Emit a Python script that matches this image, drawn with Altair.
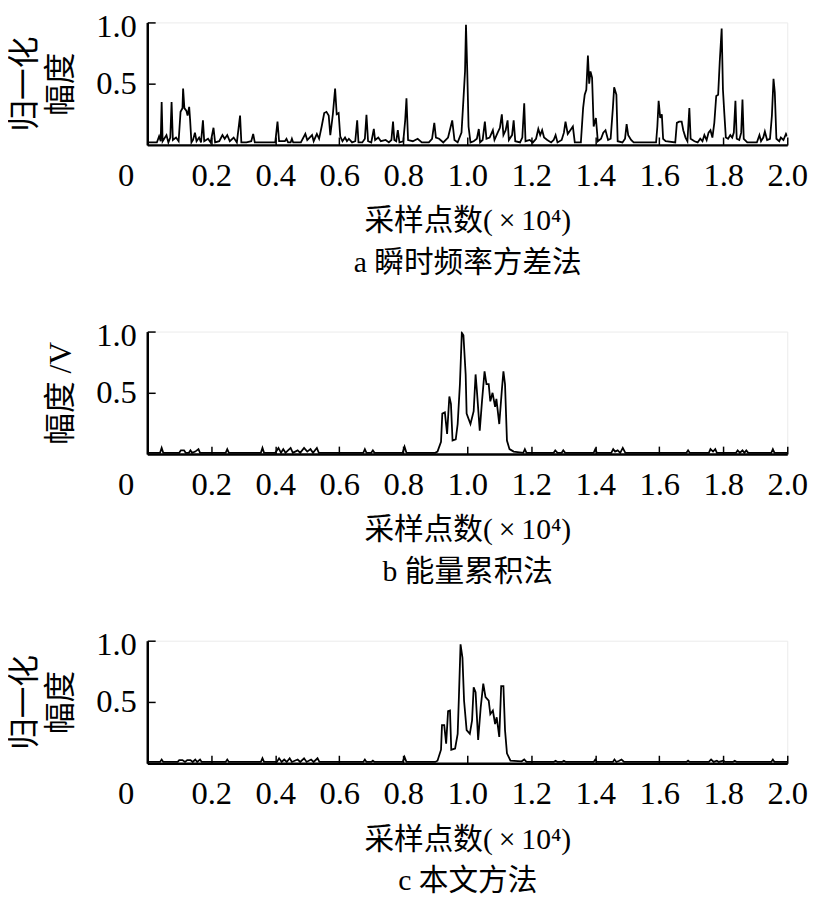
import altair as alt
import pandas as pd

# ---------------- data ----------------
x_ticks = [0, 0.2, 0.4, 0.6, 0.8, 1.0, 1.2, 1.4, 1.6, 1.8, 2.0]
y_ticks = [0.5, 1.0]
x_title = "采样点数(\u2009×\u200910⁴)"
captions = ["a 瞬时频率方差法", "b 能量累积法", "c 本文方法"]
y_titles = [["归一化", "幅度"], "幅度 /V", ["归一化", "幅度"]]

# panel a: instantaneous-frequency variance method
a_x = [0.000, 0.030, 0.037, 0.042, 0.045, 0.048, 0.060, 0.066, 0.072, 0.076, 0.080, 0.090,
       0.098, 0.104, 0.110, 0.112, 0.116, 0.122, 0.126, 0.131, 0.134, 0.138, 0.143, 0.149,
       0.154, 0.162, 0.168, 0.174, 0.178, 0.190, 0.198, 0.207, 0.212, 0.225, 0.235, 0.242,
       0.250, 0.258, 0.270, 0.280, 0.290, 0.294, 0.310, 0.325, 0.331, 0.336, 0.400, 0.407,
       0.412, 0.430, 0.435, 0.440, 0.448, 0.452, 0.456, 0.480, 0.494, 0.500, 0.515, 0.520,
       0.530, 0.537, 0.545, 0.553, 0.560, 0.567, 0.572, 0.580, 0.587, 0.592, 0.598, 0.603,
       0.610, 0.618, 0.624, 0.630, 0.640, 0.650, 0.656, 0.660, 0.672, 0.680, 0.685, 0.690,
       0.700, 0.708, 0.712, 0.722, 0.730, 0.745, 0.755, 0.763, 0.768, 0.772, 0.778, 0.783,
       0.788, 0.800, 0.806, 0.810, 0.815, 0.830, 0.845, 0.858, 0.880, 0.890, 0.897, 0.902,
       0.912, 0.925, 0.940, 0.953, 0.960, 0.970, 0.982, 0.988, 0.993, 0.996, 1.000, 1.004,
       1.010, 1.020, 1.030, 1.036, 1.040, 1.048, 1.055, 1.060, 1.070, 1.080, 1.085, 1.095,
       1.102, 1.108, 1.113, 1.120, 1.126, 1.130, 1.140, 1.145, 1.150, 1.165, 1.172, 1.178,
       1.182, 1.195, 1.205, 1.215, 1.222, 1.228, 1.234, 1.240, 1.250, 1.262, 1.270, 1.276,
       1.282, 1.295, 1.302, 1.307, 1.314, 1.322, 1.330, 1.336, 1.355, 1.362, 1.367, 1.372,
       1.377, 1.381, 1.385, 1.390, 1.395, 1.402, 1.408, 1.418, 1.425, 1.432, 1.440, 1.448,
       1.455, 1.459, 1.466, 1.470, 1.485, 1.493, 1.498, 1.503, 1.512, 1.520, 1.590, 1.594,
       1.598, 1.603, 1.608, 1.612, 1.620, 1.650, 1.655, 1.662, 1.670, 1.675, 1.682, 1.688,
       1.694, 1.698, 1.710, 1.720, 1.728, 1.735, 1.741, 1.748, 1.754, 1.760, 1.766, 1.772,
       1.778, 1.784, 1.789, 1.795, 1.799, 1.803, 1.808, 1.815, 1.822, 1.828, 1.833, 1.838,
       1.842, 1.850, 1.856, 1.860, 1.864, 1.875, 1.905, 1.913, 1.918, 1.925, 1.930, 1.937,
       1.946, 1.952, 1.957, 1.961, 1.966, 1.975, 1.980, 1.988, 1.996, 2.000]
a_y = [0.02, 0.02, 0.07, 0.03, 0.35, 0.03, 0.08, 0.02, 0.06, 0.35, 0.04, 0.06,
       0.03, 0.27, 0.30, 0.46, 0.30, 0.28, 0.24, 0.31, 0.20, 0.02, 0.04, 0.10,
       0.03, 0.06, 0.02, 0.20, 0.03, 0.05, 0.02, 0.14, 0.02, 0.03, 0.08, 0.05,
       0.08, 0.03, 0.06, 0.02, 0.24, 0.02, 0.02, 0.03, 0.09, 0.02, 0.02, 0.19,
       0.03, 0.03, 0.05, 0.02, 0.02, 0.05, 0.02, 0.02, 0.09, 0.04, 0.08, 0.03,
       0.09, 0.05, 0.15, 0.26, 0.27, 0.24, 0.08, 0.25, 0.46, 0.25, 0.26, 0.07,
       0.03, 0.06, 0.03, 0.05, 0.02, 0.03, 0.20, 0.02, 0.02, 0.05, 0.245, 0.03,
       0.02, 0.13, 0.04, 0.06, 0.03, 0.04, 0.02, 0.04, 0.19, 0.04, 0.03, 0.12,
       0.02, 0.03, 0.20, 0.38, 0.04, 0.03, 0.05, 0.02, 0.02, 0.05, 0.18, 0.06,
       0.05, 0.02, 0.06, 0.20, 0.04, 0.02, 0.10, 0.37, 0.60, 0.98, 0.60, 0.15,
       0.02, 0.03, 0.05, 0.13, 0.02, 0.04, 0.19, 0.05, 0.06, 0.12, 0.04, 0.10,
       0.14, 0.25, 0.08, 0.12, 0.20, 0.04, 0.08, 0.20, 0.03, 0.02, 0.06, 0.34,
       0.03, 0.04, 0.02, 0.05, 0.13, 0.08, 0.12, 0.06, 0.04, 0.02, 0.04, 0.08,
       0.02, 0.04, 0.10, 0.19, 0.09, 0.12, 0.15, 0.02, 0.02, 0.30, 0.41, 0.45,
       0.73, 0.50, 0.60, 0.55, 0.15, 0.22, 0.03, 0.05, 0.10, 0.12, 0.04, 0.05,
       0.30, 0.47, 0.41, 0.03, 0.02, 0.05, 0.17, 0.08, 0.04, 0.02, 0.02, 0.15,
       0.36, 0.22, 0.25, 0.05, 0.03, 0.02, 0.18, 0.19, 0.19, 0.12, 0.06, 0.03,
       0.30, 0.05, 0.03, 0.02, 0.05, 0.03, 0.08, 0.04, 0.10, 0.12, 0.06, 0.18,
       0.40, 0.41, 0.68, 0.95, 0.45, 0.27, 0.06, 0.05, 0.08, 0.06, 0.10, 0.36,
       0.05, 0.04, 0.10, 0.37, 0.05, 0.02, 0.02, 0.08, 0.03, 0.06, 0.11, 0.04,
       0.05, 0.24, 0.54, 0.43, 0.05, 0.03, 0.06, 0.04, 0.09, 0.07]

# panel b: energy accumulation method
b_x = [0.000, 0.040, 0.045, 0.050, 0.100, 0.105, 0.115, 0.120, 0.130, 0.135, 0.140, 0.150,
       0.160, 0.165, 0.245, 0.250, 0.255, 0.355, 0.360, 0.365, 0.400, 0.410, 0.418, 0.425,
       0.432, 0.440, 0.448, 0.455, 0.470, 0.478, 0.490, 0.500, 0.510, 0.518, 0.530, 0.536,
       0.675, 0.680, 0.685, 0.700, 0.705, 0.710, 0.798, 0.804, 0.810, 0.900, 0.907, 0.918,
       0.922, 0.930, 0.937, 0.944, 0.949, 0.954, 0.964, 0.970, 0.977, 0.983, 0.988, 0.995,
       0.998, 1.010, 1.020, 1.026, 1.030, 1.039, 1.046, 1.054, 1.060, 1.067, 1.072, 1.079,
       1.087, 1.091, 1.100, 1.108, 1.113, 1.118, 1.124, 1.132, 1.145, 1.175, 1.180, 1.185,
       1.270, 1.275, 1.282, 1.295, 1.300, 1.306, 1.395, 1.400, 1.405, 1.450, 1.456, 1.462,
       1.470, 1.478, 1.486, 1.494, 1.685, 1.690, 1.695, 1.755, 1.760, 1.768, 1.775, 1.780,
       1.840, 1.845, 1.852, 1.860, 1.866, 1.872, 1.878, 1.950, 1.955, 1.960, 2.000]
b_y = [0.01, 0.01, 0.05, 0.01, 0.01, 0.03, 0.03, 0.01, 0.01, 0.03, 0.01, 0.02,
       0.04, 0.01, 0.01, 0.04, 0.01, 0.01, 0.05, 0.01, 0.01, 0.05, 0.01, 0.04,
       0.01, 0.03, 0.05, 0.01, 0.03, 0.01, 0.05, 0.02, 0.04, 0.01, 0.05, 0.01,
       0.01, 0.04, 0.01, 0.01, 0.03, 0.01, 0.01, 0.06, 0.01, 0.01, 0.02, 0.10,
       0.33, 0.34, 0.165, 0.47, 0.41, 0.11, 0.12, 0.245, 0.57, 0.99, 0.97, 0.65,
       0.33, 0.245, 0.35, 0.65, 0.52, 0.19, 0.43, 0.675, 0.57, 0.57, 0.43, 0.50,
       0.385, 0.45, 0.245, 0.52, 0.675, 0.57, 0.11, 0.04, 0.02, 0.01, 0.04, 0.01,
       0.01, 0.03, 0.01, 0.01, 0.03, 0.01, 0.01, 0.04, 0.01, 0.01, 0.04, 0.02,
       0.03, 0.01, 0.05, 0.01, 0.01, 0.03, 0.01, 0.01, 0.04, 0.02, 0.04, 0.01,
       0.01, 0.03, 0.01, 0.03, 0.01, 0.03, 0.01, 0.01, 0.04, 0.01, 0.01]

# panel c: proposed method
c_x = [0.000, 0.040, 0.045, 0.050, 0.095, 0.100, 0.110, 0.118, 0.125, 0.135, 0.142, 0.150,
       0.156, 0.165, 0.170, 0.245, 0.250, 0.255, 0.355, 0.360, 0.365, 0.405, 0.412, 0.420,
       0.428, 0.436, 0.445, 0.452, 0.470, 0.478, 0.490, 0.498, 0.512, 0.520, 0.532, 0.538,
       0.675, 0.680, 0.685, 0.700, 0.705, 0.710, 0.798, 0.804, 0.810, 0.900, 0.907, 0.918,
       0.921, 0.928, 0.934, 0.940, 0.946, 0.950, 0.962, 0.970, 0.974, 0.979, 0.985, 0.990,
       0.998, 1.008, 1.015, 1.020, 1.026, 1.034, 1.042, 1.050, 1.057, 1.067, 1.072, 1.080,
       1.087, 1.092, 1.100, 1.106, 1.113, 1.118, 1.124, 1.135, 1.170, 1.178, 1.185, 1.270,
       1.276, 1.282, 1.296, 1.302, 1.308, 1.395, 1.400, 1.405, 1.455, 1.460, 1.466, 1.475,
       1.482, 1.490, 1.685, 1.690, 1.695, 1.755, 1.762, 1.770, 1.780, 1.786, 1.800, 1.806,
       1.830, 1.836, 1.842, 1.950, 1.955, 1.960, 2.000]
c_y = [0.01, 0.01, 0.03, 0.01, 0.01, 0.025, 0.025, 0.01, 0.025, 0.025, 0.01, 0.03,
       0.01, 0.03, 0.01, 0.01, 0.03, 0.01, 0.01, 0.04, 0.01, 0.01, 0.04, 0.01,
       0.03, 0.01, 0.04, 0.01, 0.03, 0.01, 0.04, 0.01, 0.03, 0.01, 0.04, 0.01,
       0.01, 0.03, 0.01, 0.01, 0.02, 0.01, 0.01, 0.05, 0.01, 0.01, 0.02, 0.11,
       0.31, 0.31, 0.16, 0.425, 0.43, 0.11, 0.12, 0.24, 0.55, 0.97, 0.86, 0.51,
       0.27, 0.24, 0.35, 0.62, 0.58, 0.19, 0.455, 0.65, 0.54, 0.51, 0.40, 0.43,
       0.32, 0.375, 0.215, 0.63, 0.63, 0.27, 0.08, 0.02, 0.015, 0.03, 0.01, 0.01,
       0.02, 0.01, 0.01, 0.02, 0.01, 0.01, 0.03, 0.01, 0.01, 0.03, 0.01, 0.02,
       0.03, 0.01, 0.01, 0.02, 0.01, 0.01, 0.03, 0.01, 0.02, 0.01, 0.02, 0.01,
       0.01, 0.02, 0.01, 0.01, 0.03, 0.01, 0.01]

# ---------------- styling ----------------
FONT = "Liberation Serif, Noto Sans CJK SC"
W, H = 648, 124


def panel(xs, ys, caption, ytitle):
    df = pd.DataFrame({"x": xs, "y": ys})
    return alt.Chart(df).mark_line(color="black", strokeWidth=1.8, clip=True).encode(
        x=alt.X("x:Q",
                scale=alt.Scale(domain=[0, 2], nice=False, zero=False),
                axis=alt.Axis(values=x_ticks, title=[x_title, caption],
                              labelExpr="datum.value == 0 ? '0' : format(datum.value, '.1f')",
                              labelOffset={"condition": {"test": "datum.value == 0", "value": -22},
                                           "value": 0})),
        y=alt.Y("y:Q",
                scale=alt.Scale(domain=[0, 1], nice=False),
                axis=alt.Axis(values=y_ticks, format=".1f", title=ytitle,
                              labelOffset={"condition": {"test": "datum.value == 1", "value": 4},
                                           "value": 0})),
    ).properties(width=W, height=H)


chart = alt.vconcat(
    panel(a_x, a_y, captions[0], y_titles[0]),
    panel(b_x, b_y, captions[1], y_titles[1]),
    panel(c_x, c_y, captions[2], y_titles[2]),
    spacing=189,
    bounds="flush",
).properties(
    padding={"left": 0, "top": -4, "right": 0, "bottom": 4},
    background="white",
).configure_view(
    stroke="#ebebeb", strokeWidth=1,
).configure_axis(
    grid=False,
    domainColor="black", domainWidth=2.5,
    tickColor="black", tickWidth=1.5, tickSize={"expr": "-8"},
    labelFont=FONT, labelFontSize=33, labelColor="black", labelFlush=False,
    titleFont=FONT, titleFontWeight="normal", titleColor="black",
).configure_axisX(
    labelPadding=23, titleFontSize=30, titleLineHeight=42, titlePadding=14,
).configure_axisY(
    labelPadding=19, titleFontSize=32, titleLineHeight=37, titlePadding=18,
)

chart.save("out.html", embed_options={"renderer": "svg", "actions": False})
